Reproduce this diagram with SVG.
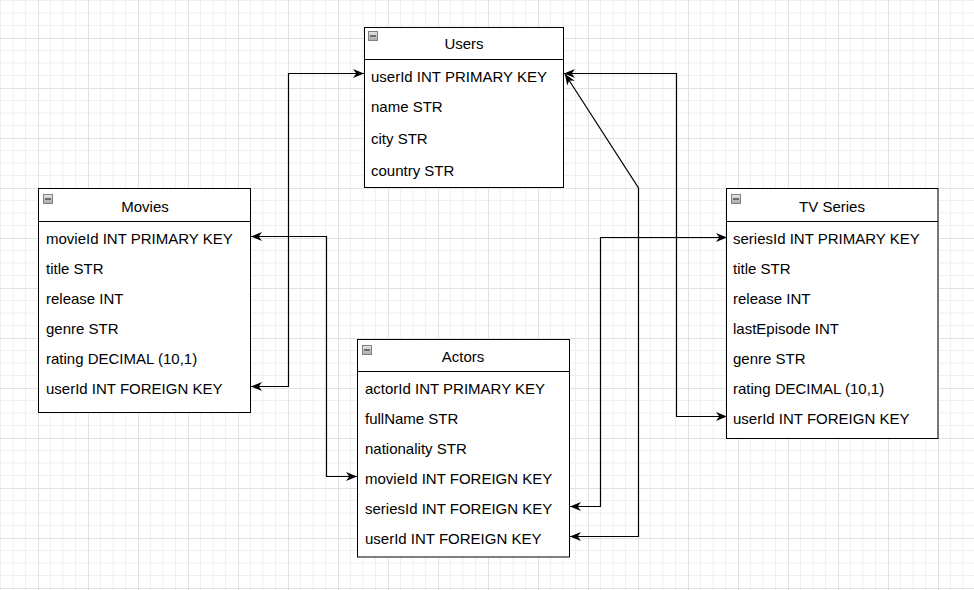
<svg xmlns="http://www.w3.org/2000/svg" width="974" height="590" viewBox="0 0 974 590">
<defs>
<pattern id="grid" x="38" y="38" width="50" height="50" patternUnits="userSpaceOnUse">
<rect width="50" height="50" fill="#ffffff"/>
<path d="M12.5 0V50M25 0V50M37.5 0V50M0 12.5H50M0 25H50M0 37.5H50" stroke="#f0f0f0" stroke-width="1" fill="none"/>
<path d="M0.5 0V50M0 0.5H50" stroke="#e2e2e2" stroke-width="1" fill="none"/>
</pattern>
<linearGradient id="ig" x1="0" y1="0" x2="0" y2="1">
<stop offset="0" stop-color="#e8e8e8"/>
<stop offset="1" stop-color="#a9a9a9"/>
</linearGradient>
<marker id="arr" viewBox="0 0 11 9" refX="11" refY="4.5" markerWidth="11" markerHeight="9" markerUnits="userSpaceOnUse" orient="auto-start-reverse">
<path d="M0 0L11 4.5L0 9L3.3 4.5Z" fill="#000"/>
</marker>
<g id="icon">
<rect x="0.5" y="0.5" width="9" height="9" fill="url(#ig)" stroke="#808080" stroke-width="1"/>
<path d="M2 5H8" stroke="#333" stroke-width="1.2"/>
</g>
</defs>
<style>
.box{fill:#ffffff;stroke:#000;stroke-width:1}
.div{stroke:#000;stroke-width:1;fill:none}
.t{font-family:"Liberation Sans",Arial,Helvetica,sans-serif;font-size:15px;fill:#000}
.h{text-anchor:middle}
.c{fill:none;stroke:#000;stroke-width:1.2;marker-start:url(#arr);marker-end:url(#arr)}
</style>
<rect width="974" height="590" fill="url(#grid)"/>

<g id="connectors">
<path class="c" d="M251 386.5H288.5V73.5H364"/>
<path class="c" d="M251 236.5H326.5V476.5H357"/>
<path class="c" d="M570 506.5H600.5V237.5H727"/>
<path class="c" d="M570 536.5H638.5V188L565 74"/>
<path class="c" d="M564 73.5H676.5V416.5H727"/>
</g>

<g id="users">
<rect class="box" x="364.5" y="27.5" width="199" height="160"/>
<path class="div" d="M364.5 59.5H563.5"/>
<use href="#icon" x="368" y="31"/>
<text class="t h" x="464" y="49">Users</text>
<text class="t" x="371" y="82">userId INT PRIMARY KEY</text>
<text class="t" x="371" y="112">name STR</text>
<text class="t" x="371" y="144">city STR</text>
<text class="t" x="371" y="176">country STR</text>
</g>

<g id="movies">
<rect class="box" x="38.5" y="188.5" width="212" height="224"/>
<path class="div" d="M38.5 221.5H250.5"/>
<use href="#icon" x="43" y="194"/>
<text class="t h" x="145" y="212">Movies</text>
<text class="t" x="46" y="244">movieId INT PRIMARY KEY</text>
<text class="t" x="46" y="274">title STR</text>
<text class="t" x="46" y="304">release INT</text>
<text class="t" x="46" y="334">genre STR</text>
<text class="t" x="46" y="364">rating DECIMAL (10,1)</text>
<text class="t" x="46" y="394">userId INT FOREIGN KEY</text>
</g>

<g id="tvseries">
<rect class="box" x="726.5" y="188.5" width="211.5" height="250"/>
<path class="div" d="M726.5 221.5H938"/>
<use href="#icon" x="731" y="194"/>
<text class="t h" x="832" y="212">TV Series</text>
<text class="t" x="733" y="244">seriesId INT PRIMARY KEY</text>
<text class="t" x="733" y="274">title STR</text>
<text class="t" x="733" y="304">release INT</text>
<text class="t" x="733" y="334">lastEpisode INT</text>
<text class="t" x="733" y="364">genre STR</text>
<text class="t" x="733" y="394">rating DECIMAL (10,1)</text>
<text class="t" x="733" y="424">userId INT FOREIGN KEY</text>
</g>

<g id="actors">
<rect class="box" x="357.5" y="339.5" width="212" height="217.5"/>
<path class="div" d="M357.5 371.5H569.5"/>
<use href="#icon" x="362" y="345"/>
<text class="t h" x="463" y="362">Actors</text>
<text class="t" x="365" y="394">actorId INT PRIMARY KEY</text>
<text class="t" x="365" y="424">fullName STR</text>
<text class="t" x="365" y="454">nationality STR</text>
<text class="t" x="365" y="484">movieId INT FOREIGN KEY</text>
<text class="t" x="365" y="514">seriesId INT FOREIGN KEY</text>
<text class="t" x="365" y="544">userId INT FOREIGN KEY</text>
</g>
</svg>
